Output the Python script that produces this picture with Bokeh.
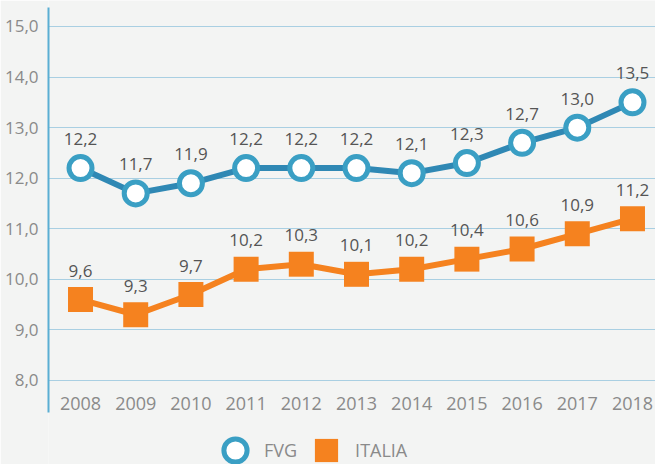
from bokeh.plotting import figure
from bokeh.models import Range1d, FixedTicker, CustomJSTickFormatter, Legend, LegendItem
from bokeh.core.properties import value
from bokeh.embed import file_html
from bokeh.resources import INLINE

years = [2008, 2009, 2010, 2011, 2012, 2013, 2014, 2015, 2016, 2017, 2018]
fvg = [12.2, 11.7, 11.9, 12.2, 12.2, 12.2, 12.1, 12.3, 12.7, 13.0, 13.5]
italia = [9.6, 9.3, 9.7, 10.2, 10.3, 10.1, 10.2, 10.4, 10.6, 10.9, 11.2]
y_ticks = [8, 9, 10, 11, 12, 13, 14, 15]
year_labels = [str(y) for y in years]

FONT = "Open Sans"
BG = "#f3f4f3"
GRID = "#a9cfe2"
AXIS = "#5aaed3"
BLUE_LINE = "#2f88b4"
BLUE_MARK = "#3a9fc4"
ORANGE = "#f5821f"
GRAY = "#8a8a8a"
DARK = "#555555"

X_LEFT, X_RIGHT = 2007.42, 2018.417
Y_TOP = 15.514
Y_BOTTOM = 6.339
AXIS_BOUNDS = (7.367, 15.376)
YEAR_ROW = 7.545


def fmt(v):
    return f"{v:.1f}".replace(".", ",")


p = figure(width=655, height=464, output_backend="svg", toolbar_location=None,
           x_range=Range1d(X_LEFT, X_RIGHT), y_range=Range1d(Y_BOTTOM, Y_TOP),
           min_border_left=48, min_border_right=0, min_border_top=0,
           min_border_bottom=0)
p.background_fill_color = BG
p.border_fill_color = BG
p.outline_line_color = None

p.xaxis.visible = False
p.xgrid.visible = False
p.ygrid.ticker = FixedTicker(ticks=y_ticks)
p.ygrid.grid_line_color = GRID
p.ygrid.grid_line_width = 1

p.yaxis.ticker = FixedTicker(ticks=y_ticks)
p.yaxis.bounds = AXIS_BOUNDS
p.yaxis.formatter = CustomJSTickFormatter(code="return tick.toFixed(1).replace('.', ',');")
p.yaxis.major_tick_line_color = None
p.yaxis.minor_tick_line_color = None
p.yaxis.axis_line_color = AXIS
p.yaxis.axis_line_width = 2
p.yaxis.major_label_standoff = 4
p.yaxis.major_label_text_color = GRAY
p.yaxis.major_label_text_font = FONT
p.yaxis.major_label_text_font_size = "17px"

# year labels along the bottom
p.text(x=years, y=[YEAR_ROW] * len(years), text=year_labels, text_align="center",
       text_baseline="middle", text_color=GRAY, text_font=value(FONT),
       text_font_size="18px")

# FVG
p.line(years, fvg, line_color=BLUE_LINE, line_width=6)
fvg_sc = p.scatter(years, fvg, marker="circle", size=23, fill_color="white",
                   line_color=BLUE_MARK, line_width=5)
p.text(x=years, y=fvg, text=[fmt(v) for v in fvg], y_offset=-29,
       text_align="center", text_baseline="middle", text_color=DARK,
       text_font=value(FONT), text_font_size="17px")

# ITALIA
p.line(years, italia, line_color=ORANGE, line_width=6)
it_sc = p.scatter(years, italia, marker="square", size=25, fill_color=ORANGE,
                  line_color=ORANGE, line_width=0)
p.text(x=years, y=italia, text=[fmt(v) for v in italia], y_offset=-29,
       text_align="center", text_baseline="middle", text_color=DARK,
       text_font=value(FONT), text_font_size="17px")

legend = Legend(items=[LegendItem(label="FVG", renderers=[fvg_sc]),
                       LegendItem(label="ITALIA", renderers=[it_sc])],
                orientation="horizontal", location=(158, -15),
                border_line_color=None, background_fill_alpha=0,
                padding=0, margin=0, glyph_width=58, glyph_height=58,
                label_standoff=-6, spacing=-3, label_text_color=GRAY,
                label_text_font=FONT, label_text_font_size="18px")
p.add_layout(legend)

open("out.html", "w").write(file_html(p, INLINE))
